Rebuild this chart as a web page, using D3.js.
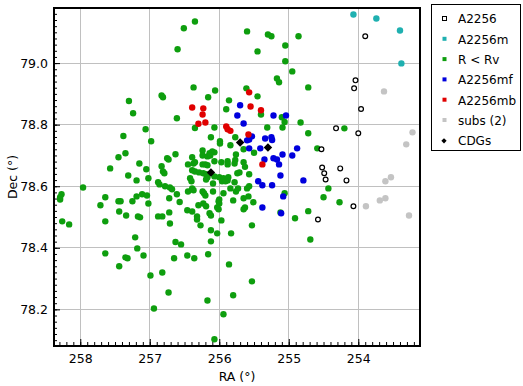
<!DOCTYPE html>
<html>
<head>
<meta charset="utf-8">
<script src="https://cdn.jsdelivr.net/npm/d3@7"></script>
<style>
  body { margin: 0; background: #fff; }
  text { font-family: "DejaVu Sans", Verdana, sans-serif; }
</style>
</head>
<body>
<svg id="chart" width="523" height="386"></svg>
<script>
// [RA, Dec] in degrees, one array per sample
const a2256 = [
  [253.90,79.087],[254.04,78.944],[254.06,78.918],[253.96,78.851],[254.32,78.788],[254.00,78.772],
  [254.53,78.720],[254.52,78.661],[254.49,78.642],[254.47,78.622],[254.26,78.658],[254.17,78.619],
  [254.07,78.535],[254.58,78.492]
];
const a2256m = [[254.07,79.158],[253.74,79.145],[253.40,79.106],[253.38,78.999]];
const rLtRv = [
  [256.60,79.045],[257.30,78.877],[256.83,78.895],[256.81,78.889],[257.24,78.837],[256.61,78.821],[257.06,78.785],
  [256.35,79.135],[256.51,79.113],[255.60,79.103],[255.30,79.093],[255.25,79.087],[254.86,79.087],[255.05,79.057],
  [255.45,79.038],[255.05,79.006],[254.95,78.973],[255.17,78.950],[255.14,78.938],[254.72,78.921],[256.37,78.921],
  [256.06,78.911],[256.16,78.889],[255.61,78.918],[255.45,78.892],[255.86,78.879],[255.90,78.850],[255.40,78.833],
  [256.35,78.789],[256.07,78.791],[255.31,78.791],[255.09,78.791],[255.10,78.824],[255.06,78.809],[254.83,78.807],
  [254.20,78.788],[254.72,78.772],[254.59,78.723],[254.43,78.593],[254.50,78.564],[254.27,78.548],[254.72,78.519],
  [254.91,78.496],[254.69,78.427],
  [257.38,78.763],[256.98,78.746],[257.35,78.707],[257.45,78.694],[257.57,78.658],[257.15,78.674],[257.05,78.655],
  [257.31,78.635],[257.19,78.619],[257.02,78.626],[256.83,78.665],[256.75,78.691],[256.73,78.687],[256.63,78.704],
  [256.81,78.648],[256.79,78.642],[256.88,78.613],[256.86,78.606],[256.78,78.600],[256.71,78.596],[256.68,78.590],
  [256.61,78.574],[256.57,78.549],[256.72,78.561],[257.96,78.596],[258.27,78.574],[258.29,78.564],[258.29,78.557],
  [257.64,78.564],[257.71,78.538],[257.45,78.551],[257.42,78.551],[257.25,78.551],[257.19,78.567],[257.11,78.574],
  [257.04,78.570],[257.02,78.544],[257.44,78.518],[257.34,78.505],[257.17,78.502],[257.14,78.499],[256.88,78.502],
  [256.82,78.502],[256.72,78.515],[256.71,78.479],[258.26,78.486],[258.16,78.476],[257.64,78.486],[257.21,78.434],
  [257.64,78.382],[257.44,78.340],[257.35,78.369],[257.32,78.366],[257.18,78.398],[257.09,78.375],[256.63,78.419],
  [256.55,78.411],[256.65,78.366],[256.46,78.375],[256.36,78.366],[256.16,78.379],[256.12,78.421],[256.03,78.447],
  [255.83,78.447],[255.86,78.346],[255.80,78.246],[256.99,78.310],[256.82,78.320],[256.73,78.255],[256.94,78.203],
  [256.17,78.229],[255.94,78.184],[256.07,78.103],[255.53,78.291],
  [256.12,78.759],[255.99,78.746],[255.99,78.739],[255.84,78.733],[255.77,78.759],[255.65,78.720],[255.76,78.703],
  [256.24,78.716],[256.24,78.700],[256.14,78.707],[256.10,78.713],[256.07,78.710],[256.17,78.697],[256.13,78.700],
  [256.39,78.694],[256.07,78.681],[255.97,78.678],[255.88,78.681],[255.88,78.671],[255.78,78.674],[255.65,78.678],
  [256.45,78.671],[256.37,78.674],[256.35,78.678],[256.24,78.671],[256.20,78.671],[256.17,78.668],[256.39,78.652],
  [256.35,78.648],[256.29,78.645],[256.23,78.642],[256.19,78.639],[256.17,78.629],[256.19,78.622],[256.07,78.632],
  [256.00,78.629],[255.94,78.626],[255.93,78.622],[255.88,78.619],[255.87,78.629],[255.96,78.616],[255.91,78.616],
  [255.74,78.642],[255.71,78.645],[255.57,78.639],[255.78,78.613],[256.09,78.609],[256.42,78.626],[256.40,78.616],
  [256.45,78.583],[256.39,78.593],[256.37,78.587],[256.24,78.583],[256.22,78.577],[256.20,78.570],[256.09,78.583],
  [255.94,78.577],[255.84,78.593],[255.76,78.583],[255.73,78.593],[255.60,78.593],[255.57,78.600],[255.58,78.567],
  [255.80,78.554],[256.00,78.557],[256.01,78.551],[256.00,78.544],[256.23,78.544],[256.19,78.535],[256.30,78.538],
  [256.46,78.522],[256.39,78.518],[256.32,78.502],[256.32,78.492],[256.14,78.512],[256.12,78.505],[256.03,78.531],
  [256.01,78.525],[255.97,78.489],[255.65,78.525],[255.63,78.531],[255.53,78.473],[256.27,78.473],[256.12,78.457],
  [255.06,78.577],[255.12,78.515],[255.50,78.709],[255.51,78.548],[255.63,78.663],[255.77,78.685],[255.65,78.561]
];
const a2256mf = [
  [255.70,78.863],[255.74,78.830],[255.65,78.804],[255.22,78.830],[255.04,78.830],[255.53,78.762],[255.60,78.749],
  [255.57,78.752],[255.57,78.723],[255.41,78.723],[255.34,78.755],[255.25,78.759],[255.24,78.750],[255.09,78.703],
  [254.95,78.700],[254.88,78.723],[255.22,78.691],[255.17,78.687],[255.35,78.687],[255.14,78.671],[255.12,78.635],
  [255.44,78.616],[255.38,78.603],[255.24,78.603],[255.08,78.567],[255.38,78.531],[255.11,78.512],[254.79,78.619]
];
const a2256mb = [
  [255.57,78.905],[255.55,78.859],[255.40,78.847],[256.39,78.856],[256.23,78.853],[256.24,78.833],[256.20,78.807],
  [256.30,78.803],[255.90,78.794],[255.88,78.785],[255.84,78.780],[255.58,78.768],[255.38,78.671]
];
const subs2 = [
  [253.63,78.908],[253.22,78.775],[253.31,78.736],[253.53,78.629],[253.61,78.616],[253.61,78.561],[253.69,78.554],
  [253.89,78.535],[253.27,78.505]
];
const cdgs = [[255.70,78.742],[255.30,78.726],[256.12,78.645]];

const raTicks = [258, 257, 256, 255, 254];
const decTicks = [78.2, 78.4, 78.6, 78.8, 79.0];
const legendNames = ['A2256', 'A2256m', 'R < Rv', 'A2256mf', 'A2256mb', 'subs (2)', 'CDGs'];

const green = '#0e9e0e', teal = '#1fb0b0', blue = '#0000dd', red = '#e00000', grey = '#c4c4c4';

const svg = d3.select('#chart');
const pL = 54, pR = 420, pT = 8, pB = 346;

// RA runs backwards (east to the left)
const x = d3.scaleLinear().domain([258.378, 253.112]).range([pL, pR]);
const y = d3.scaleLinear().domain([79.179, 78.081]).range([pT, pB]);

svg.append('rect').attr('width', 523).attr('height', 386).attr('fill', '#fff');

// grid
svg.append('g').selectAll('line').data(raTicks).enter().append('line')
  .attr('x1', d => x(d)).attr('x2', d => x(d)).attr('y1', pT).attr('y2', pB)
  .attr('stroke', '#c0c0c0').attr('stroke-width', 1).attr('shape-rendering', 'crispEdges');
svg.append('g').selectAll('line').data(decTicks).enter().append('line')
  .attr('y1', d => y(d)).attr('y2', d => y(d)).attr('x1', pL).attr('x2', pR)
  .attr('stroke', '#c0c0c0').attr('stroke-width', 1).attr('shape-rendering', 'crispEdges');

// minor ticks
const raMinor = d3.range(2532, 2584).map(d => d / 10);
const decMinor = d3.range(3905, 3960).map(d => d / 50);

svg.append('g').attr('transform', `translate(0,${pB})`)
  .call(d3.axisBottom(x).tickValues(raTicks).tickSizeInner(-7).tickSizeOuter(0).tickPadding(8).tickFormat(d3.format('d')));
svg.append('g').attr('transform', `translate(0,${pB})`)
  .call(d3.axisBottom(x).tickValues(raMinor).tickSizeInner(-4).tickSizeOuter(0).tickFormat(''));
svg.append('g').attr('transform', `translate(${pL},0)`)
  .call(d3.axisLeft(y).tickValues(decTicks).tickSizeInner(-6).tickSizeOuter(0).tickPadding(6).tickFormat(d3.format('.1f')));
svg.append('g').attr('transform', `translate(${pL},0)`)
  .call(d3.axisLeft(y).tickValues(decMinor).tickSizeInner(-3).tickSizeOuter(0).tickFormat(''));

svg.selectAll('.domain').remove();
svg.selectAll('.tick line').attr('stroke', '#000');
svg.selectAll('.tick text').attr('font-size', 12.5).attr('fill', '#000')
  .attr('font-family', '"DejaVu Sans", Verdana, sans-serif');

// points
const plot = svg.append('g');
function dots(data, fill, r) {
  plot.append('g').selectAll('circle').data(data).enter().append('circle')
    .attr('cx', d => x(d[0])).attr('cy', d => y(d[1])).attr('r', r).attr('fill', fill);
}
dots(rLtRv, green, 3.2);
plot.append('g').selectAll('circle').data(a2256).enter().append('circle')
  .attr('cx', d => x(d[0])).attr('cy', d => y(d[1])).attr('r', 2.4)
  .attr('fill', '#fff').attr('stroke', '#000').attr('stroke-width', 1.2);
dots(a2256m, teal, 3.2);
dots(a2256mf, blue, 3.2);
dots(a2256mb, red, 3.2);
dots(subs2, grey, 3.2);
plot.append('g').selectAll('path').data(cdgs).enter().append('path')
  .attr('transform', d => `translate(${x(d[0])},${y(d[1])}) rotate(45)`)
  .attr('d', d3.symbol(d3.symbolSquare, 36)).attr('fill', '#000');

// frame
svg.append('rect').attr('x', pL).attr('y', pT).attr('width', pR - pL).attr('height', pB - pT)
  .attr('fill', 'none').attr('stroke', '#000').attr('stroke-width', 2);

// axis titles
svg.append('text').attr('x', (pL + pR) / 2).attr('y', 381).attr('text-anchor', 'middle')
  .attr('font-size', 12.5).text('RA (°)');
svg.append('text').attr('transform', `translate(17,${(pT + pB) / 2}) rotate(-90)`)
  .attr('text-anchor', 'middle').attr('font-size', 12.5).text('Dec (°)');

// legend
const lg = svg.append('g');
lg.append('rect').attr('x', 431.5).attr('y', 4.5).attr('width', 89).attr('height', 146)
  .attr('fill', '#fff').attr('stroke', '#000');
const legendColors = ['#fff', teal, green, blue, red, grey, '#000'];
const rows = lg.selectAll('g.row').data(legendNames).enter().append('g')
  .attr('class', 'row').attr('transform', (d, i) => `translate(0,${19 + i * 20.3})`);
rows.each(function (d, i) {
  const g = d3.select(this);
  if (i === 6) {
    g.append('path').attr('transform', 'translate(444,0) rotate(45)')
      .attr('d', d3.symbol(d3.symbolSquare, 14)).attr('fill', '#000');
  } else {
    g.append('rect').attr('x', 442.5).attr('y', -2.5).attr('width', 4).attr('height', 4)
      .attr('fill', legendColors[i]).attr('stroke', i === 0 ? '#000' : 'none');
  }
  g.append('text').attr('x', 458).attr('y', 0).attr('dy', '0.36em').attr('font-size', 12).text(d);
});
</script>
</body>
</html>
